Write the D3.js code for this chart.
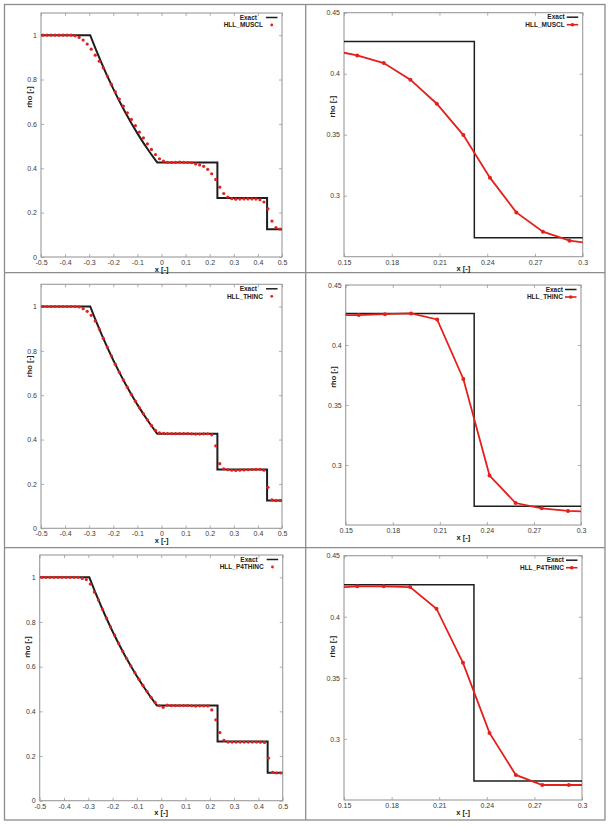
<!DOCTYPE html>
<html><head><meta charset="utf-8">
<script src="https://cdn.jsdelivr.net/npm/d3@7/dist/d3.min.js"></script>
<style>
body{margin:0;background:#fff}
text{font-family:"Liberation Sans",Arial,sans-serif}
</style>
</head><body>
<svg id="c" width="615" height="828"></svg>
<script>
// ---------- DATA ----------
const cellX = [-0.4917,-0.4750,-0.4583,-0.4417,-0.4250,-0.4083,-0.3917,-0.3750,-0.3583,-0.3417,
  -0.3250,-0.3083,-0.2917,-0.2750,-0.2583,-0.2417,-0.2250,-0.2083,-0.1917,-0.1750,
  -0.1583,-0.1417,-0.1250,-0.1083,-0.0917,-0.0750,-0.0583,-0.0417,-0.0250,-0.0083,
  0.0083,0.0250,0.0417,0.0583,0.0750,0.0917,0.1083,0.1250,0.1417,0.1583,
  0.1750,0.1917,0.2083,0.2250,0.2417,0.2583,0.2750,0.2917,0.3083,0.3250,
  0.3417,0.3583,0.3750,0.3917,0.4083,0.4250,0.4417,0.4583,0.4750,0.4917];

const rhoMUSCL = [1,1,1,1,1,1,1,1,0.997,0.990,
  0.978,0.960,0.937,0.910,0.883,0.853,0.816,0.779,0.745,0.712,
  0.680,0.650,0.620,0.592,0.563,0.537,0.510,0.485,0.462,0.443,
  0.432,0.427,0.426,0.427,0.428,0.427,0.426,0.425,0.4194,0.415,
  0.4087,0.3951,0.3754,0.3497,0.3148,0.2863,0.2705,0.2631,0.2605,0.261,
  0.262,0.262,0.262,0.261,0.258,0.248,0.217,0.162,0.133,0.126];

const rhoTHINC = [1,1,1,1,1,1,1,1,1,0.998,
  0.990,0.978,0.960,0.935,0.898,0.857,0.817,0.778,0.740,0.704,
  0.669,0.636,0.604,0.573,0.544,0.516,0.489,0.464,0.442,0.430,
  0.428,0.427,0.427,0.427,0.427,0.427,0.427,0.426,0.425,0.4249,
  0.4257,0.4263,0.4213,0.3717,0.2912,0.2683,0.2639,0.2617,0.261,0.262,
  0.263,0.264,0.265,0.266,0.266,0.262,0.185,0.128,0.125,0.125];

const rhoP4THINC = [1,1,1,1,1,1,1,1,1,1,
  0.995,0.990,0.970,0.934,0.898,0.857,0.817,0.778,0.741,0.704,
  0.669,0.636,0.604,0.573,0.544,0.516,0.489,0.463,0.440,0.425,
  0.418,0.428,0.426,0.426,0.426,0.426,0.426,0.425,0.4237,0.4249,
  0.4249,0.4243,0.4066,0.3623,0.3049,0.2705,0.2623,0.2623,0.2623,0.2623,
  0.2623,0.2623,0.2623,0.2623,0.2620,0.261,0.191,0.127,0.124,0.124];

const exactX = [-0.5,-0.2958,-0.275,-0.25,-0.225,-0.2,-0.175,-0.15,-0.125,-0.1,-0.075,-0.05,-0.025,-0.0176,0.2319,0.2319,0.4381,0.4381,0.5];
const exactRho = [1,1,0.9428,0.8775,0.8158,0.7577,0.7029,0.6514,0.6030,0.5574,0.5146,0.4745,0.4370,0.4263,0.4263,0.2656,0.2656,0.125,0.125];

const seriesNames = ["HLL_MUSCL","HLL_THINC","HLL_P4THINC"];
const exactName = "Exact";

const fullXTicks = [-0.5,-0.4,-0.3,-0.2,-0.1,0,0.1,0.2,0.3,0.4,0.5];
const fullXLabels = ["-0.5","-0.4","-0.3","-0.2","-0.1","0","0.1","0.2","0.3","0.4","0.5"];
const fullYTicks = [0,0.2,0.4,0.6,0.8,1];
const fullYLabels = ["0","0.2","0.4","0.6","0.8","1"];
const zoomXTicks = [0.15,0.18,0.21,0.24,0.27,0.3];
const zoomXLabels = ["0.15","0.18","0.21","0.24","0.27","0.3"];
const zoomYTicks = [0.3,0.35,0.4,0.45];
const zoomYLabels = ["0.3","0.35","0.4","0.45"];
const fullXDomain = [-0.5,0.5], fullYDomain = [0,1.1];
const zoomXDomain = [0.15,0.3], zoomYDomain = [0.25,0.45];
const xLabel = "x [-]", yLabel = "rho [-]";

// ---------- DRAW ----------
const svg = d3.select("#c");
const series = [rhoMUSCL, rhoTHINC, rhoP4THINC];
const RED = "#e3201c";

// outer frame and grid dividers
svg.append("rect").attr("x",4.5).attr("y",4.5).attr("width",600.5).attr("height",815.5)
  .attr("fill","none").attr("stroke","#8c8c8c").attr("stroke-width",1.3);
svg.append("line").attr("x1",305.7).attr("x2",305.7).attr("y1",4.5).attr("y2",820).attr("stroke","#8c8c8c").attr("stroke-width",1.3);
[272.7,547.7].forEach(yy=>svg.append("line").attr("x1",4.5).attr("x2",605).attr("y1",yy).attr("y2",yy).attr("stroke","#8c8c8c").attr("stroke-width",1.3));

const layout = [
  {l:41,r:282,t:13,b:257,lab:84},
  {l:344,r:582.7,t:12.7,b:256.7,lab:94},
  {l:41,r:282,t:284.3,b:528.3,lab:82},
  {l:345.7,r:581,t:285,b:525,lab:92},
  {l:39.7,r:282.7,t:555,b:800.7,lab:92},
  {l:344,r:582,t:555.7,b:800,lab:91}
];

function fmt(ticks, labels){ return d => labels[ticks.findIndex(t=>Math.abs(t-d)<1e-9)]; }

layout.forEach((p,k)=>{
  const row = Math.floor(k/2), zoom = k%2===1;
  const x = d3.scaleLinear().domain(zoom?zoomXDomain:fullXDomain).range([p.l,p.r]);
  const y = d3.scaleLinear().domain(zoom?zoomYDomain:fullYDomain).range([p.b,p.t]);
  const xt = zoom?zoomXTicks:fullXTicks, xl = zoom?zoomXLabels:fullXLabels;
  const yt = zoom?zoomYTicks:fullYTicks, yl = zoom?zoomYLabels:fullYLabels;
  const g = svg.append("g");
  const cid = "clip"+k;
  svg.append("clipPath").attr("id",cid).append("rect")
    .attr("x",p.l).attr("y",p.t).attr("width",p.r-p.l).attr("height",p.b-p.t);

  const styleAxis = sel => {
    sel.select(".domain").remove();
    sel.selectAll(".tick line").attr("stroke","#9a9a9a").attr("stroke-width",0.8);
    sel.selectAll(".tick text").attr("fill","#3a3a3a").style("font-size","7px");
  };
  g.append("g").attr("transform",`translate(0,${p.b})`)
    .call(d3.axisBottom(x).tickValues(xt).tickFormat(fmt(xt,xl)).tickSize(-3).tickPadding(3)).call(styleAxis);
  g.append("g").attr("transform",`translate(0,${p.t})`)
    .call(d3.axisTop(x).tickValues(xt).tickFormat("").tickSize(-3)).call(styleAxis);
  g.append("g").attr("transform",`translate(${p.l},0)`)
    .call(d3.axisLeft(y).tickValues(yt).tickFormat(fmt(yt,yl)).tickSize(-3).tickPadding(4)).call(styleAxis);
  g.append("g").attr("transform",`translate(${p.r},0)`)
    .call(d3.axisRight(y).tickValues(yt).tickFormat("").tickSize(-3)).call(styleAxis);

  g.append("rect").attr("x",p.l).attr("y",p.t).attr("width",p.r-p.l).attr("height",p.b-p.t)
    .attr("fill","none").attr("stroke","#9a9a9a").attr("stroke-width",1.1);

  // exact
  const exact = exactX.map((v,i)=>[v,exactRho[i]]);
  const line = d3.line().x(d=>x(d[0])).y(d=>y(d[1]));
  g.append("path").attr("d",line(exact)).attr("fill","none").attr("stroke","#1e1e1e")
    .attr("stroke-width",zoom?1.5:2).attr("clip-path",`url(#${cid})`);

  const num = cellX.map((v,i)=>[v,series[row][i]]);
  if(zoom){
    g.append("path").attr("d",line(num)).attr("fill","none").attr("stroke",RED)
      .attr("stroke-width",1.8).attr("clip-path",`url(#${cid})`);
    g.append("g").selectAll("circle").data(num.filter(d=>d[0]>=zoomXDomain[0]&&d[0]<=zoomXDomain[1]))
      .join("circle").attr("cx",d=>x(d[0])).attr("cy",d=>y(d[1])).attr("r",2).attr("fill",RED);
  } else {
    g.append("g").selectAll("circle").data(num).join("circle")
      .attr("cx",d=>x(d[0])).attr("cy",d=>y(d[1])).attr("r",1.6).attr("fill",RED);
  }

  // legend
  const lg = g.append("g").style("font-size","6.5px").style("font-weight","bold").attr("fill","#222");
  const ex = zoom ? p.r-18 : p.r-25, nx = zoom ? p.r-18 : p.r-19;
  lg.append("text").attr("x",ex).attr("y",p.t+4.5).attr("dy","0.35em").attr("text-anchor","end").text(exactName);
  lg.append("text").attr("x",nx).attr("y",p.t+12).attr("dy","0.35em").attr("text-anchor","end").text(seriesNames[row]);
  const s0 = zoom ? p.r-16 : p.r-16, s1 = p.r-4.5;
  lg.append("line").attr("x1",s0).attr("x2",s1).attr("y1",p.t+4.5).attr("y2",p.t+4.5).attr("stroke","#1e1e1e").attr("stroke-width",1.5);
  if(zoom){
    lg.append("line").attr("x1",s0).attr("x2",s1).attr("y1",p.t+12).attr("y2",p.t+12).attr("stroke",RED).attr("stroke-width",1.6);
  }
  lg.append("circle").attr("cx",(s0+s1)/2).attr("cy",p.t+12).attr("r",zoom?1.8:1.4).attr("fill",RED);

  // axis titles
  g.append("text").attr("x",(p.l+p.r)/2).attr("y",p.b+12).attr("dy","0.35em").attr("text-anchor","middle")
    .style("font-size","7.5px").style("font-weight","bold").attr("fill","#222").text(xLabel);
  g.append("text").attr("transform",`translate(${p.l-12},${p.t+p.lab}) rotate(-90)`).attr("dy","0.35em")
    .attr("text-anchor","middle").style("font-size","7.5px").style("font-weight","bold").attr("fill","#222").text(yLabel);
});
</script>
</body></html>
